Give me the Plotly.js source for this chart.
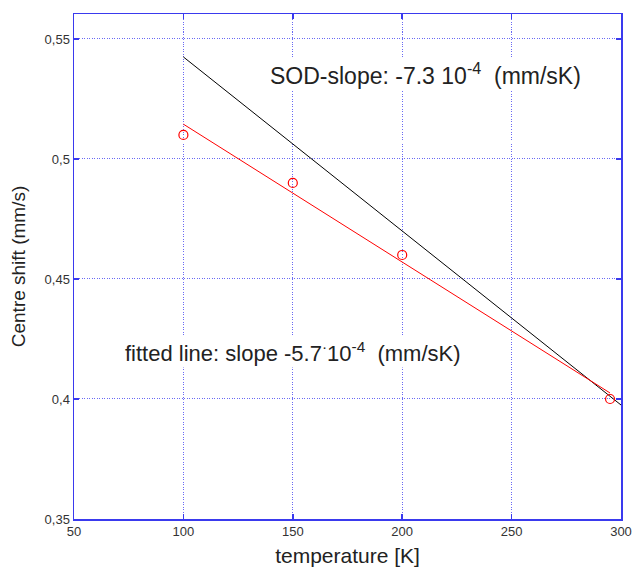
<!DOCTYPE html>
<html><head><meta charset="utf-8">
<script src="https://cdn.plot.ly/plotly-3.0.1.min.js"></script>
<style>html,body{margin:0;padding:0;background:#fff}</style>
</head><body>
<div id="chart" style="width:632px;height:572px"></div>
<script>
const tempK = [100, 150, 200, 295];
const centreShift = [0.51, 0.49, 0.46, 0.40];
const fitX = [100, 295];
const fitY = [0.5145, 0.4025];
const sodX = [100, 300];
const sodY = [0.5425, 0.3975];
const yTicks = [0.35, 0.4, 0.45, 0.5, 0.55];
const yTickText = ['0,35', '0,4', '0,45', '0,5', '0,55'];
const xTicks = [50, 100, 150, 200, 250, 300];

const blue = '#3a3aee';
const gridBlue = '#6a6af4';
const font = 'Liberation Sans, Arial, Helvetica, sans-serif';

const traces = [
  {x: sodX, y: sodY, mode: 'lines', line: {color: '#000', width: 1}, hoverinfo: 'skip'},
  {x: fitX, y: fitY, mode: 'lines', line: {color: '#ff0000', width: 1}, hoverinfo: 'skip'},
  {x: tempK, y: centreShift, mode: 'markers',
   marker: {symbol: 'circle-open', size: 9, color: '#ff0000', line: {width: 1.2, color: '#ff0000'}}}
];

const axisCommon = {
  showline: true, linecolor: blue, linewidth: 1.5, mirror: 'ticks',
  ticks: 'inside', ticklen: 5, tickcolor: blue, tickwidth: 1.5,
  showgrid: true, gridcolor: gridBlue, griddash: '1px,1.5px', gridwidth: 1,
  zeroline: false, tickfont: {family: font, size: 13, color: '#333'}
};

const layout = {
  width: 632, height: 572,
  margin: {l: 74, r: 11, t: 14, b: 53},
  showlegend: false,
  paper_bgcolor: '#fff', plot_bgcolor: '#fff',
  xaxis: Object.assign({}, axisCommon, {
    range: [50, 300], tickvals: xTicks, ticktext: xTicks.map(String),
    title: {text: 'temperature [K]', font: {family: font, size: 21, color: '#222'}, standoff: 10}
  }),
  yaxis: Object.assign({}, axisCommon, {
    range: [0.35, 0.5604], tickvals: yTicks, ticktext: yTickText,
    title: {text: 'Centre shift (mm/s)', font: {family: font, size: 19, color: '#222'}, standoff: 14}
  }),
  annotations: [
    {x: 138.7, y: 0.5354, xref: 'x', yref: 'y', xanchor: 'left', showarrow: false,
     text: 'SOD-slope: -7.3 10<sup>-4</sup>  (mm/sK)', bgcolor: '#fff',
     font: {family: font, size: 23, color: '#222'}},
    {x: 72.4, y: 0.4196, xref: 'x', yref: 'y', xanchor: 'left', showarrow: false,
     text: 'fitted line: slope -5.7<sup>·</sup>10<sup>-4</sup>  (mm/sK)', bgcolor: '#fff',
     font: {family: font, size: 22, color: '#222'}}
  ]
};

Plotly.newPlot('chart', traces, layout, {displayModeBar: false, staticPlot: true});
</script>
</body></html>
